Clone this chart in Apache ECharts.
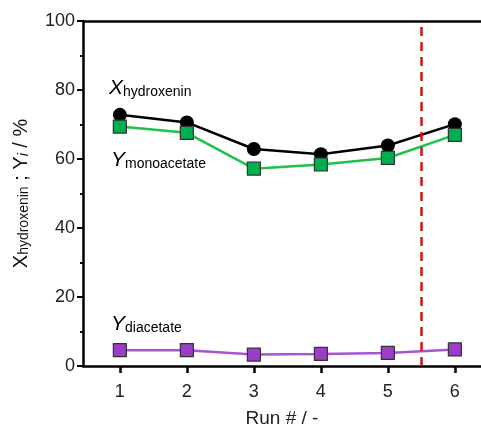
<!DOCTYPE html>
<html>
<head>
<meta charset="utf-8">
<script src="https://cdn.jsdelivr.net/npm/echarts@6/dist/echarts.min.js"></script>
<style>html,body{margin:0;padding:0;background:#fff}#c{width:481px;height:427px}</style>
</head>
<body>
<div id="c"></div>
<script>
const runs = [1, 2, 3, 4, 5, 6];
const xHydroxenin = [72.8, 70.6, 62.9, 61.4, 63.9, 70.1];
const yMonoacetate = [69.4, 67.6, 57.2, 58.4, 60.3, 67.0];
const yDiacetate = [4.6, 4.6, 3.3, 3.5, 3.8, 4.8];
const yTicks = [0, 20, 40, 60, 80, 100];
const dividerRun = 5.5;

const pairs = arr => runs.map((r, i) => [r, arr[i]]);
const FONT = 'Liberation Sans, Arial, sans-serif';

function subRich() {
  return {
    m: { fontFamily: FONT, fontSize: 21, fontStyle: 'italic', color: '#111', lineHeight: 22, verticalAlign: 'bottom' },
    s: { fontFamily: FONT, fontSize: 14, color: '#111', lineHeight: 10, verticalAlign: 'bottom' }
  };
}

const chart = echarts.init(document.getElementById('c'));
chart.setOption({
  animation: false,
  backgroundColor: '#fff',
  grid: { left: 83, right: 0, top: 21, bottom: 61, containLabel: false, outerBoundsMode: 'none' },
  xAxis: [{
    type: 'value', min: 0.45, max: 6.39,
    name: 'Run # / -', nameLocation: 'middle', nameGap: 43,
    nameTextStyle: { fontFamily: FONT, fontSize: 19, color: '#222' },
    axisLine: { lineStyle: { color: '#000', width: 2.5 } },
    axisTick: { show: true, length: 7, lineStyle: { color: '#000', width: 2.5 }, customValues: runs },
    axisLabel: { fontFamily: FONT, fontSize: 18, color: '#222', margin: 17, customValues: runs },
    splitLine: { show: false }
  }, {
    type: 'value', min: 0.45, max: 6.39, position: 'top',
    axisLine: { show: true, lineStyle: { color: '#000', width: 2.5 } },
    axisTick: { show: false }, axisLabel: { show: false }, splitLine: { show: false }
  }],
  yAxis: {
    type: 'value', min: 0, max: 100, interval: 20,
    name: '{u|X}{s|hydroxenin}{u| ; Y}{si|i}{u| / %}',
    nameLocation: 'middle', nameGap: 52, nameRotate: 90,
    nameTextStyle: {
      rich: {
        u: { fontFamily: FONT, fontSize: 20, color: '#111', lineHeight: 22, verticalAlign: 'bottom' },
        s: { fontFamily: FONT, fontSize: 14, color: '#111', lineHeight: 10, verticalAlign: 'bottom' },
        si: { fontFamily: FONT, fontSize: 14, fontStyle: 'italic', color: '#111', lineHeight: 10, verticalAlign: 'bottom' }
      }
    },
    axisLine: { show: true, lineStyle: { color: '#000', width: 2.5 } },
    axisTick: { show: true, length: 6, lineStyle: { color: '#000', width: 2 } },
    minorTick: { show: true, splitNumber: 2, length: 3, lineStyle: { color: '#000', width: 2 } },
    axisLabel: { fontFamily: FONT, fontSize: 18, color: '#222', margin: 8, customValues: yTicks },
    splitLine: { show: false }
  },
  series: [{
    name: 'X hydroxenin', type: 'line', data: pairs(xHydroxenin),
    symbol: 'circle', symbolSize: 14,
    lineStyle: { color: '#000', width: 2.5 },
    itemStyle: { color: '#000' },
    z: 2,
    markLine: {
      silent: true, symbol: ['none', 'none'], label: { show: false },
      lineStyle: { color: '#d01515', width: 2.5, type: [9, 6] },
      data: [{ xAxis: dividerRun }]
    }
  }, {
    name: 'Y monoacetate', type: 'line', data: pairs(yMonoacetate),
    symbol: 'rect', symbolSize: 13,
    lineStyle: { color: '#1ec24a', width: 2.5 },
    itemStyle: { color: '#00b050', borderColor: '#333', borderWidth: 1.2 },
    z: 3
  }, {
    name: 'Y diacetate', type: 'line', data: pairs(yDiacetate),
    symbol: 'rect', symbolSize: 13,
    lineStyle: { color: '#a855d4', width: 2.5 },
    itemStyle: { color: '#9c3cc8', borderColor: '#333', borderWidth: 1.2 },
    z: 3
  }],
  graphic: [
    { type: 'text', left: 109, top: 78, style: { text: '{m|X}{s|hydroxenin}', rich: subRich() } },
    { type: 'text', left: 111, top: 150, style: { text: '{m|Y}{s|monoacetate}', rich: subRich() } },
    { type: 'text', left: 111, top: 314, style: { text: '{m|Y}{s|diacetate}', rich: subRich() } }
  ]
});
</script>
</body>
</html>
